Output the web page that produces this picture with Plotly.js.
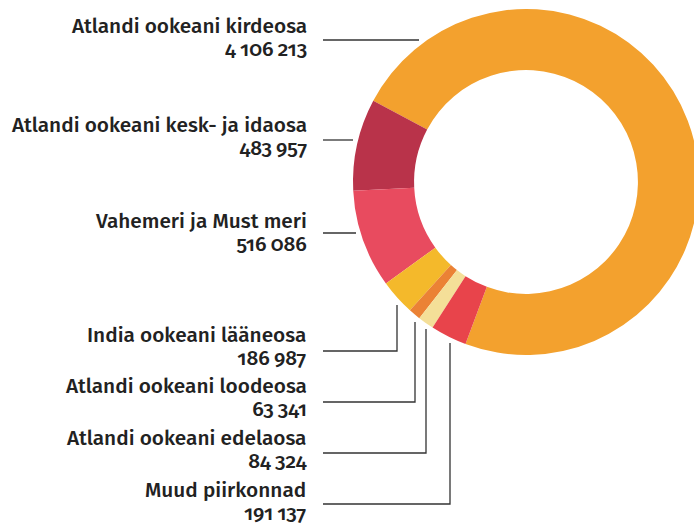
<!DOCTYPE html>
<html>
<head>
<meta charset="utf-8">
<script src="https://cdn.plot.ly/plotly-3.0.1.min.js"></script>
<style>
html, body { margin: 0; padding: 0; overflow: hidden; background: #fff; width: 694px; height: 523px; }
#chart { width: 710px; height: 523px; }
svg text { font-variant-numeric: oldstyle-nums; font-feature-settings: "onum" 1; }
</style>
</head>
<body>
<div id="chart"></div>
<script>
// ---- data ----
const regions = [
  "Atlandi ookeani kirdeosa",
  "Atlandi ookeani kesk- ja idaosa",
  "Vahemeri ja Must meri",
  "India ookeani lääneosa",
  "Atlandi ookeani loodeosa",
  "Atlandi ookeani edelaosa",
  "Muud piirkonnad"
];
const amounts = [4106213, 483957, 516086, 186987, 63341, 84324, 191137];
const sliceColors = ["#F3A12E", "#B9334A", "#E84B5F", "#F4B92B", "#EB8235", "#F4DF98", "#E8444B"];

// ---- layout helpers (pixel positions of labels and leader lines) ----
const W = 710, H = 523;
const fx = px => px / W;
const fy = py => 1 - py / H;
const fmt = n => String(n).replace(/\B(?=(\d{3})+(?!\d))/g, "\u2009");

const nameBase = [33, 132, 228, 342, 393, 445, 497];
// leader lines: [y of horizontal, x end, y top of vertical (null if none)]
const leaders = [
  [40, 419, null],
  [140, 353, null],
  [233, 356, null],
  [351, 397, 305],
  [402, 415, 322],
  [453, 426, 329],
  [504, 450, 343]
];

const fontFam = "'Fira Sans', 'Open Sans', 'Noto Sans', sans-serif";
const TS = 20.8;
const annotations = regions.map((r, i) => ({
  xref: "paper", yref: "paper", x: fx(308), y: fy(nameBase[i] - 20.5),
  xanchor: "right", yanchor: "top", align: "right", showarrow: false,
  text: `<span style="font-size:${TS}px">${r}</span><br><span style="font-size:${TS}px">${fmt(amounts[i])}</span>`,
  borderpad: 0,
  font: { family: fontFam, size: 17.8, color: "#222222", weight: 500 }
}));

const shapes = leaders.map(l => {
  const x0 = fx(323), y = fy(l[0]), x1 = fx(l[1]);
  let path = `M${x0},${y} L${x1},${y}`;
  if (l[2] !== null) path += ` L${x1},${fy(l[2])}`;
  return {
    type: "path", xref: "paper", yref: "paper", path: path,
    line: { color: "#333333", width: 1.3 }
  };
});

const trace = {
  type: "pie",
  labels: regions,
  values: amounts,
  marker: { colors: sliceColors, line: { width: 0 } },
  hole: 0.647,
  sort: false,
  direction: "counterclockwise",
  rotation: -62,
  textinfo: "none",
  hoverinfo: "none",
  showlegend: false,
  domain: { x: [fx(353), fx(699)], y: [fy(355), fy(9)] }
};

const layout = {
  width: W, height: H,
  margin: { l: 0, r: 0, t: 0, b: 0 },
  paper_bgcolor: "#ffffff",
  plot_bgcolor: "#ffffff",
  showlegend: false,
  annotations: annotations,
  shapes: shapes
};

Plotly.newPlot("chart", [trace], layout, { staticPlot: true, displayModeBar: false });
</script>
</body>
</html>
